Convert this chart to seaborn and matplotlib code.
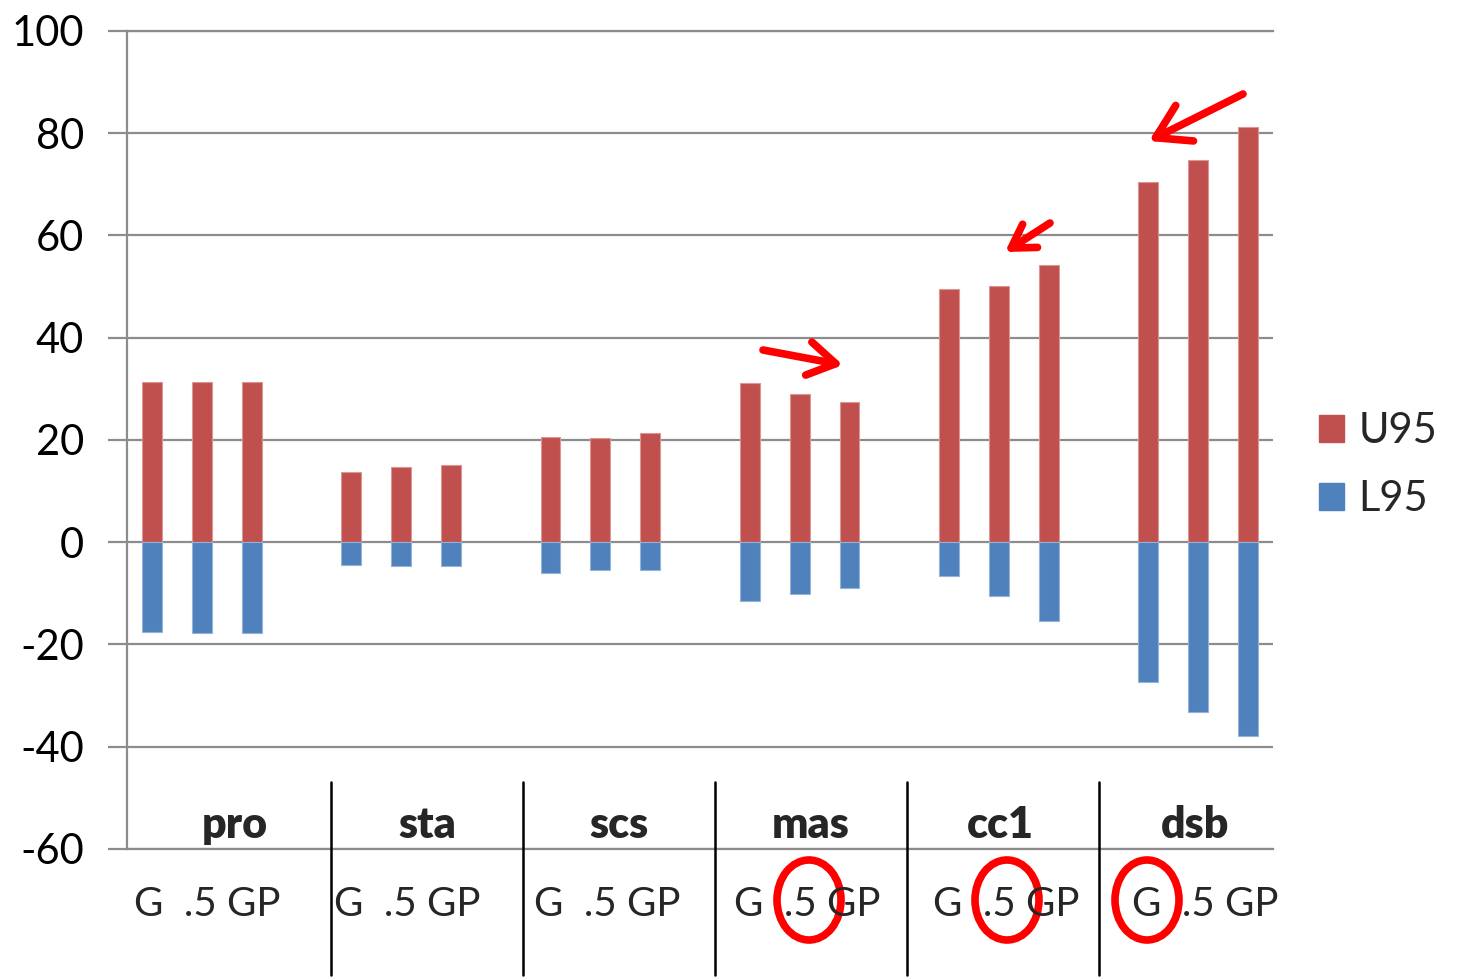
import matplotlib
matplotlib.use("Agg")
import matplotlib.pyplot as plt
import seaborn as sns
import pandas as pd
from matplotlib.patches import Ellipse, Patch
from matplotlib.lines import Line2D

# ---------------- data ----------------
groups = ["pro", "sta", "scs", "mas", "cc1", "dsb"]
methods = ["G", ".5", "GP"]
u95 = [31.4, 31.4, 31.4,
       13.8, 14.7, 15.1,
       20.5, 20.4, 21.4,
       31.1, 28.9, 27.4,
       49.6, 50.2, 54.2,
       70.5, 74.7, 81.2]
l95 = [-17.6, -17.7, -17.8,
       -4.4, -4.7, -4.7,
       -6.0, -5.4, -5.5,
       -11.4, -10.1, -9.0,
       -6.6, -10.6, -15.4,
       -27.3, -33.3, -37.8]
y_ticks = [-60, -40, -20, 0, 20, 40, 60, 80, 100]
series_names = ["U95", "L95"]

# ---------------- styling ----------------
W, H = 1460, 980
RED = "#C0504D"
BLUE = "#4F81BD"
GRID = "#8C8C8C"
FONT = "Lato"

sns.set_theme(style="white")
plt.rcParams["font.family"] = [FONT, "DejaVu Sans"]

rows = []
order = []
k = 0
for gi, g in enumerate(groups):
    for m in methods:
        slot = f"{g}|{m}"
        order.append(slot)
        rows.append({"slot": slot, "U95": u95[k], "L95": l95[k]})
        k += 1
    if gi < len(groups) - 1:
        order.append(f"gap{gi}")
df = pd.DataFrame(rows)

fig = plt.figure(figsize=(W / 100, H / 100), dpi=100)
ax = fig.add_axes([127 / W, 1 - 849 / H, (1273 - 127) / W, (849 - 31) / H])

sns.barplot(data=df, x="slot", y="U95", order=order, color=RED, width=0.4,
            saturation=1, edgecolor="#D99694", linewidth=0.8, ax=ax)
sns.barplot(data=df, x="slot", y="L95", order=order, color=BLUE, width=0.4,
            saturation=1, edgecolor="#95B3D7", linewidth=0.8, ax=ax)

ax.set_xlim(-0.5, len(order) - 0.5)
ax.set_ylim(-60, 100)
ax.set_yticks(y_ticks)
ax.set_yticklabels([str(v) for v in y_ticks], fontsize=30, color="black")
ax.set_xticks([])
ax.set_xlabel("")
ax.set_ylabel("")
ax.yaxis.grid(True, color=GRID, linewidth=1.6)
ax.set_axisbelow(True)
ax.tick_params(axis="y", length=14, width=1.6, color=GRID, pad=17, left=True)
for s in ["top", "bottom"]:
    ax.spines[s].set_visible(True)
    ax.spines[s].set_color(GRID)
    ax.spines[s].set_linewidth(1.6)
ax.spines["right"].set_visible(False)
ax.spines["left"].set_color(GRID)
ax.spines["left"].set_linewidth(1.6)

# ---------------- category labels below plot ----------------
def fx(x):
    return x / W

def fy(y):
    return 1 - y / H

group_centers = [235, 427, 619, 811, 1000, 1195]
sub_centers = [207, 407, 607, 807, 1006, 1205]
for g, cx in zip(groups, group_centers):
    fig.text(fx(cx), fy(838), g, ha="center", va="baseline", fontsize=31,
             fontweight="heavy")
for cx in sub_centers:
    fig.text(fx(cx), fy(916), "  ".join([methods[0], " ".join(methods[1:])]),
             ha="center", va="baseline", fontsize=29)
for sx in [331, 523, 715, 907, 1099]:
    fig.add_artist(Line2D([fx(sx), fx(sx)], [fy(782), fy(975)], color="black",
                          linewidth=1.8, transform=fig.transFigure))

# ---------------- legend ----------------
handles = [Patch(facecolor=RED, edgecolor=RED), Patch(facecolor=BLUE, edgecolor=BLUE)]
fig.legend(handles, series_names, loc="center left",
           bbox_to_anchor=(fx(1319), fy(465)), frameon=False, fontsize=30,
           handlelength=0.6, handleheight=0.6, handletextpad=0.35,
           labelspacing=0.72, borderpad=0, borderaxespad=0)

# ---------------- red annotations ----------------
arrows = [((763, 350), (843, 365), 1.1),
          ((1050, 223), (1005, 252), 0.9),
          ((1243, 94), (1149, 141), 1.3)]
for (tx, ty), (hx, hy), sc in arrows:
    fig.add_artist(matplotlib.patches.FancyArrowPatch(
        (fx(tx), fy(ty)), (fx(hx), fy(hy)), transform=fig.transFigure,
        arrowstyle=f"->,head_length={0.9*sc},head_width={0.55*sc}",
        mutation_scale=20, color="#FF0000", linewidth=5.5,
        capstyle="round", joinstyle="round", shrinkA=0, shrinkB=0))

for cx in [809, 1007, 1147]:
    fig.add_artist(Ellipse((fx(cx), fy(900)), 64 / W, 80 / H,
                           transform=fig.transFigure, fill=False,
                           edgecolor="#FF0000", linewidth=5.5))

fig.savefig("out.png", dpi=100)
